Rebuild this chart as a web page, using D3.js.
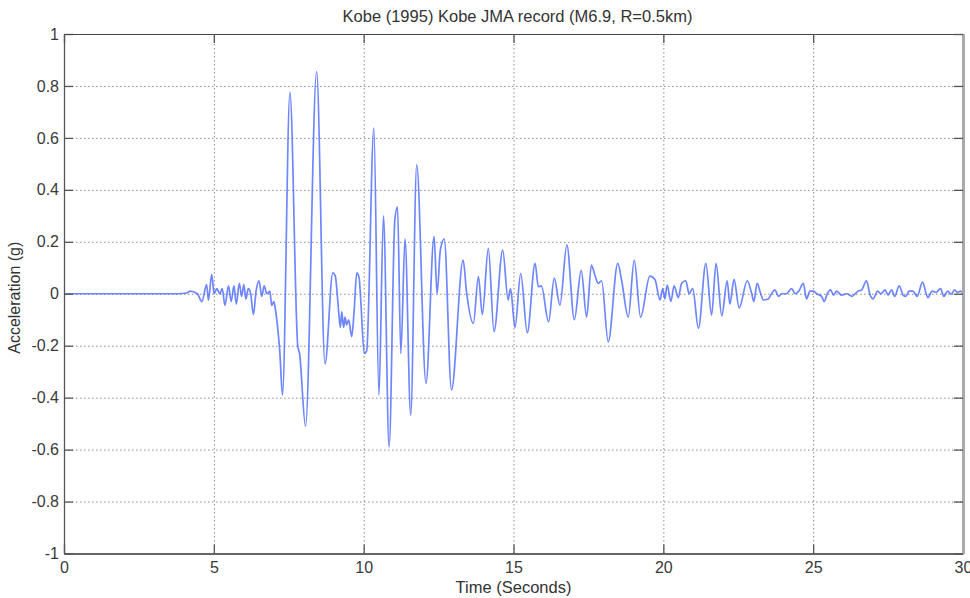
<!DOCTYPE html>
<html>
<head>
<meta charset="utf-8">
<script src="https://cdn.jsdelivr.net/npm/d3@7"></script>
<style>
  body { margin: 0; background: #fff; }
  svg { display: block; font-family: Arial, "Liberation Sans", sans-serif; }
</style>
</head>
<body>
<svg id="chart"></svg>
<script>
const timeSec = [
  0, 3.8, 4.1, 4.2, 4.45, 4.6, 4.76, 4.82, 4.93, 5.01, 5.1, 5.2, 5.28, 5.37, 5.49, 5.58, 5.67, 5.75, 5.85, 5.93,
  6.0, 6.07, 6.15, 6.23, 6.32, 6.41, 6.51, 6.6, 6.68, 6.77, 6.87, 6.93, 7.0, 7.04, 7.12, 7.2, 7.29, 7.54, 7.8, 7.86,
  8.06, 8.43, 8.71, 8.97, 9.05, 9.16, 9.22, 9.27, 9.33, 9.38, 9.43, 9.5, 9.6, 9.68, 9.77, 9.85, 9.9, 10.02, 10.1, 10.34,
  10.51, 10.66, 10.85, 11.04, 11.13, 11.24, 11.38, 11.57, 11.77, 12.08, 12.35, 12.45, 12.56, 12.69, 12.93, 13.32, 13.43, 13.66, 13.83, 13.96,
  14.16, 14.35, 14.64, 14.82, 14.9, 15.05, 15.24, 15.46, 15.72, 15.83, 15.93, 16.17, 16.36, 16.55, 16.78, 17.03, 17.26, 17.44, 17.6, 17.72,
  17.83, 17.94, 18.16, 18.48, 18.61, 18.83, 19.03, 19.24, 19.55, 19.72, 19.89, 19.98, 20.05, 20.13, 20.25, 20.36, 20.5, 20.61, 20.75, 20.86,
  20.98, 21.17, 21.42, 21.61, 21.76, 21.95, 22.13, 22.22, 22.36, 22.53, 22.8, 22.95, 23.02, 23.13, 23.25, 23.34, 23.5, 23.61, 23.72, 23.85,
  23.95, 24.1, 24.28, 24.4, 24.52, 24.67, 24.78, 24.89, 25.01, 25.12, 25.28, 25.37, 25.47, 25.58, 25.68, 25.78, 25.95, 26.12, 26.3, 26.4,
  26.5, 26.62, 26.78, 26.9, 27.0, 27.15, 27.26, 27.4, 27.5, 27.62, 27.72, 27.87, 28.0, 28.09, 28.2, 28.33, 28.47, 28.65, 28.76, 28.83,
  28.97, 29.1, 29.25, 29.36, 29.49, 29.6, 29.72, 29.82, 29.92, 30
];
const accelG = [
  0, 0, 0.003, 0.01, 0, -0.03, 0.035, -0.025, 0.075, 0, 0.02, 0, 0.02, -0.045, 0.03, -0.03, 0.03, -0.04, 0.04, -0.01,
  0.035, -0.02, 0.02, 0, -0.08, 0.01, 0.05, -0.01, 0.03, 0, 0.01, -0.045, -0.03, -0.05, -0.12, -0.22, -0.39, 0.775, -0.2, -0.23,
  -0.51, 0.855, -0.27, 0.08, 0.07, -0.06, -0.13, -0.07, -0.13, -0.09, -0.12, -0.1, -0.165, -0.07, 0.08, 0.06, -0.02, -0.23, -0.22, 0.638,
  -0.39, 0.3, -0.59, 0.284, 0.335, -0.23, 0.21, -0.467, 0.496, -0.345, 0.22, 0, 0.17, 0.21, -0.37, 0.13, 0.01, -0.114, 0.066, -0.08,
  0.175, -0.146, 0.168, -0.024, 0.02, -0.13, 0.078, -0.15, 0.117, 0.027, 0.03, -0.108, 0.06, -0.044, 0.188, -0.1, 0.09, -0.09, 0.11, 0.07,
  0.04, 0.05, -0.185, 0.117, 0.05, -0.09, 0.13, -0.09, 0.068, 0.055, -0.024, 0.02, -0.02, 0.033, -0.03, 0.03, -0.015, 0.04, 0.05, 0,
  0.02, -0.133, 0.117, -0.082, 0.117, -0.085, 0.05, -0.04, 0.055, -0.055, 0.05, 0, -0.03, 0.04, 0, -0.024, -0.02, 0, 0.015, -0.01,
  0, 0, 0.02, 0, 0.01, 0.04, -0.02, 0.01, 0.01, 0, -0.01, -0.03, 0, 0.015, -0.005, 0.01, -0.005, 0, -0.01, 0,
  0.01, 0.015, 0.05, -0.005, -0.02, 0.01, 0, 0.015, -0.005, 0.015, -0.01, 0.03, -0.005, -0.01, 0.01, 0.01, -0.01, 0.045, 0.005, -0.015,
  0.01, 0.005, 0.02, -0.01, 0.01, -0.002, 0.015, 0.005, 0.01, 0
];

const xTicks = [0, 5, 10, 15, 20, 25, 30];
const yTicks = [-1, -0.8, -0.6, -0.4, -0.2, 0, 0.2, 0.4, 0.6, 0.8, 1];

const titleText = 'Kobe (1995) Kobe JMA record (M6.9, R=0.5km)';
const xLabel = 'Time (Seconds)';
const yLabel = 'Acceleration (g)';

class RecordChart {

  constructor(_config, _data) {
    this.config = {
      parentElement: _config.parentElement,
      containerWidth: 970,
      containerHeight: 598,
      margin: {top: 34, right: 7, bottom: 44.5, left: 64}
    }
    this.data = _data;
    this.initVis();
  }

  initVis() {
    let vis = this;
    const m = vis.config.margin;
    vis.width = vis.config.containerWidth - m.left - m.right;
    vis.height = vis.config.containerHeight - m.top - m.bottom;

    vis.svg = d3.select(vis.config.parentElement)
        .attr('width', vis.config.containerWidth)
        .attr('height', vis.config.containerHeight);

    vis.chart = vis.svg.append('g')
        .attr('transform', `translate(${m.left},${m.top})`);

    vis.xScale = d3.scaleLinear().domain([0, 30]).range([0, vis.width]);
    vis.yScale = d3.scaleLinear().domain([-1, 1]).range([vis.height, 0]);

    const fmt = d => String(+d.toFixed(1));

    // dotted grid
    vis.chart.append('g')
        .attr('class', 'grid')
        .attr('transform', `translate(0,${vis.height})`)
        .call(d3.axisBottom(vis.xScale).tickValues(xTicks).tickSize(-vis.height).tickFormat(''));
    vis.chart.append('g')
        .attr('class', 'grid')
        .call(d3.axisLeft(vis.yScale).tickValues(yTicks).tickSize(-vis.width).tickFormat(''));
    vis.chart.selectAll('.grid .domain').remove();
    vis.chart.selectAll('.grid line')
        .attr('stroke', '#8c8c8c')
        .attr('stroke-width', 1)
        .attr('stroke-dasharray', '1.5,2.5');

    vis.chart.append('path').attr('class', 'trace');

    // axes with inward ticks on all sides
    vis.xAxisG = vis.chart.append('g')
        .attr('transform', `translate(0,${vis.height})`)
        .call(d3.axisBottom(vis.xScale).tickValues(xTicks).tickSizeInner(-9).tickSizeOuter(0)
          .tickPadding(8).tickFormat(fmt));
    vis.yAxisG = vis.chart.append('g')
        .call(d3.axisLeft(vis.yScale).tickValues(yTicks).tickSizeInner(-9).tickSizeOuter(0)
          .tickPadding(5).tickFormat(fmt));
    vis.topAxisG = vis.chart.append('g')
        .call(d3.axisTop(vis.xScale).tickValues(xTicks).tickSizeInner(-9).tickSizeOuter(0).tickFormat(''));
    vis.rightAxisG = vis.chart.append('g')
        .attr('transform', `translate(${vis.width},0)`)
        .call(d3.axisRight(vis.yScale).tickValues(yTicks).tickSizeInner(-9).tickSizeOuter(0).tickFormat(''));

    [vis.xAxisG, vis.yAxisG, vis.topAxisG, vis.rightAxisG].forEach(g => {
      g.select('.domain').attr('stroke', '#555').attr('stroke-width', 1.3);
      g.selectAll('.tick line').attr('stroke', '#555').attr('stroke-width', 1.3);
      g.selectAll('.tick text').attr('fill', '#3a3a3a').style('font-size', '16px');
    });
    vis.xAxisG.select('.domain').attr('stroke-width', 2).attr('stroke', '#666');
    vis.topAxisG.select('.domain').attr('stroke', '#444').attr('stroke-width', 1);
    vis.rightAxisG.select('.domain').attr('stroke', '#aaa').attr('stroke-width', 3);

    vis.svg.append('text')
        .attr('x', m.left + vis.width / 2 + 4)
        .attr('y', 22)
        .attr('text-anchor', 'middle')
        .attr('fill', '#333')
        .style('font-size', '16.5px')
        .text(titleText);

    vis.svg.append('text')
        .attr('x', m.left + vis.width / 2)
        .attr('y', 593)
        .attr('text-anchor', 'middle')
        .attr('fill', '#333')
        .style('font-size', '16.5px')
        .text(xLabel);

    vis.svg.append('text')
        .attr('transform', `translate(20,${m.top + vis.height / 2 + 4}) rotate(-90)`)
        .attr('text-anchor', 'middle')
        .attr('fill', '#333')
        .style('font-size', '16px')
        .text(yLabel);

    vis.updateVis();
  }

  updateVis() {
    let vis = this;
    vis.points = vis.data.time.map((t, i) => ({t: t, a: vis.data.accel[i]}));
    vis.renderVis();
  }

  renderVis() {
    let vis = this;
    const line = d3.line()
        .x(d => vis.xScale(d.t))
        .y(d => vis.yScale(d.a))
        .curve(d3.curveMonotoneX);

    vis.chart.select('.trace')
        .datum(vis.points)
        .attr('d', line)
        .attr('fill', 'none')
        .attr('stroke', '#4a68ff')
        .attr('stroke-opacity', 0.8)
        .attr('stroke-width', 1.7)
        .attr('stroke-linejoin', 'round');
  }
}

const chart = new RecordChart({parentElement: '#chart'}, {time: timeSec, accel: accelG});
</script>
</body>
</html>
